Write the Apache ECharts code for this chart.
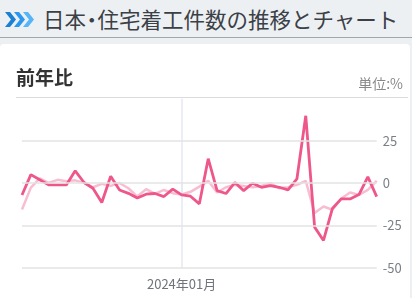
<!DOCTYPE html>
<html>
<head>
<meta charset="utf-8">
<script src="https://cdn.jsdelivr.net/npm/echarts@6/dist/echarts.min.js"></script>
<style>
  html, body { margin:0; padding:0; width:412px; height:298px; overflow:hidden; background:#edf0f3; font-family:"Noto Sans CJK JP","Noto Sans",sans-serif; }
  #header { position:absolute; left:0; top:0; width:412px; height:37px; border-bottom:1px solid #a3a7ab; background:#edf0f3; }
  #header svg { position:absolute; left:0; top:0; }
  #title { position:absolute; left:43px; top:0; height:37px; line-height:37px; font-size:21.5px; color:#3b4047; white-space:nowrap; }
  #title .dot { margin:0 -5px; }
  #card { position:absolute; left:0; top:44px; width:410px; height:260px; background:#fff; border-radius:4px 4px 0 0; }
  #chart { position:absolute; left:0; top:0; width:412px; height:298px; }
</style>
</head>
<body>
<div id="header">
  <svg width="40" height="37">
    <polygon points="5,12 10,12 16,19.5 10,27 5,27 11,19.5" fill="#1b80d3"/>
    <polygon points="14,12 19,12 25,19.5 19,27 14,27 20,19.5" fill="#2a98ef"/>
    <polygon points="23,12 28,12 34,19.5 28,27 23,27 29,19.5" fill="#56b4f8"/>
  </svg>
  <div id="title">日本<span class="dot">・</span>住宅着工件数の推移とチャート</div>
</div>
<div id="card"></div>
<div id="chart"></div>
<script>
const categories = [
  "2022年07月","2022年08月","2022年09月","2022年10月","2022年11月","2022年12月",
  "2023年01月","2023年02月","2023年03月","2023年04月","2023年05月","2023年06月",
  "2023年07月","2023年08月","2023年09月","2023年10月","2023年11月","2023年12月",
  "2024年01月","2024年02月","2024年03月","2024年04月","2024年05月","2024年06月",
  "2024年07月","2024年08月","2024年09月","2024年10月","2024年11月","2024年12月",
  "2025年01月","2025年02月","2025年03月","2025年04月","2025年05月","2025年06月",
  "2025年07月","2025年08月","2025年09月","2025年10月","2025年11月"
];
const yoyValues = [
  -7, 5.1, 2, -1, -1, -1,
  7.3, 0.4, -3, -11.4, 4.1, -4,
  -6, -8.8, -6.5, -6.1, -7.9, -3.5,
  -6.9, -7.7, -12.2, 14.5, -4.4, -6.1,
  0.4, -4.4, 0, -2.4, -1.4, -2.4,
  -4, 2.5, 39.9, -26, -33.9, -15,
  -9.3, -9.3, -6.7, 3.7, -7.9
];
const smoothValues = [
  -15.6, -2.6, 2.8, 0.2, 2, 1.1,
  1.7, 0.2, -2.4, -0.4, -1.6, 0.1,
  -3, -7.9, -3.5, -6.3, -4, -5.9,
  -6.7, -5.1, -2, 1.4, -5.5, -2.4,
  -1, -1.6, -2.4, -1.6, 0, -3,
  -2.4, -1, 1.4, -17.7, -13.8, -15.7,
  -9.1, -5.5, -6.9, -4, 1.4
];
const yTicks = { min: -50, max: 50, interval: 25 };
const gridValues = [25, 0, -25, -50];
const markedLabel = "2024年01月";

const chart = echarts.init(document.getElementById('chart'), null, { renderer: 'canvas' });
const font = '"Noto Sans CJK JP","Noto Sans",sans-serif';
const markIdx = categories.indexOf(markedLabel);
const gridColor = '#e3e3e3';
chart.setOption({
  backgroundColor: 'transparent',
  animation: false,
  textStyle: { fontFamily: font },
  title: [
    { text: '前年比', left: 11, top: 63, textStyle: { fontSize: 19, fontWeight: 'bold', color: '#333', fontFamily: font } },
    { text: '単位:%', right: 4, top: 72, textStyle: { fontSize: 14, fontWeight: 'normal', color: '#888', fontFamily: font } }
  ],
  graphic: [
    { type: 'line', shape: { x1: 16, y1: 97.5, x2: 408, y2: 97.5 }, style: { stroke: '#dcdcdc', lineWidth: 1 }, z: 0 }
  ],
  grid: { left: 22, right: 35.3, top: 98.7, bottom: 30.3, containLabel: false },
  xAxis: {
    type: 'category',
    data: categories,
    boundaryGap: false,
    axisLine: { show: false },
    axisTick: { show: true, length: 9, interval: (i) => i === markIdx, lineStyle: { color: '#e6e9f2', width: 1.5 } },
    splitLine: { show: true, interval: (i) => i === markIdx, lineStyle: { color: '#e6e9f2', width: 1.5 } },
    axisLabel: { interval: (i) => i === markIdx, margin: 10, fontSize: 13, color: '#6f737a', fontFamily: font }
  },
  yAxis: {
    type: 'value',
    position: 'right',
    min: yTicks.min, max: yTicks.max, interval: yTicks.interval,
    axisLine: { show: false },
    axisTick: { show: false },
    splitLine: { show: false },
    axisLabel: { margin: 6, fontSize: 13, color: '#7a7f87', fontFamily: font,
      formatter: (v) => v === yTicks.max ? '' : String(v) }
  },
  series: [
    { type: 'line', data: smoothValues, symbol: 'none', lineStyle: { opacity: 0 }, z: 1, silent: true,
      markLine: { silent: true, symbol: 'none', label: { show: false },
        lineStyle: { color: gridColor, width: 1.5, type: 'solid' },
        data: gridValues.map(v => ({ yAxis: v })) } },
    { type: 'line', data: smoothValues, symbol: 'none', lineStyle: { color: '#f8bdd1', width: 2.5 }, z: 2 },
    { type: 'line', data: yoyValues, symbol: 'none', lineStyle: { color: '#ee5789', width: 2.8 }, z: 3 }
  ]
});
</script>
</body>
</html>
